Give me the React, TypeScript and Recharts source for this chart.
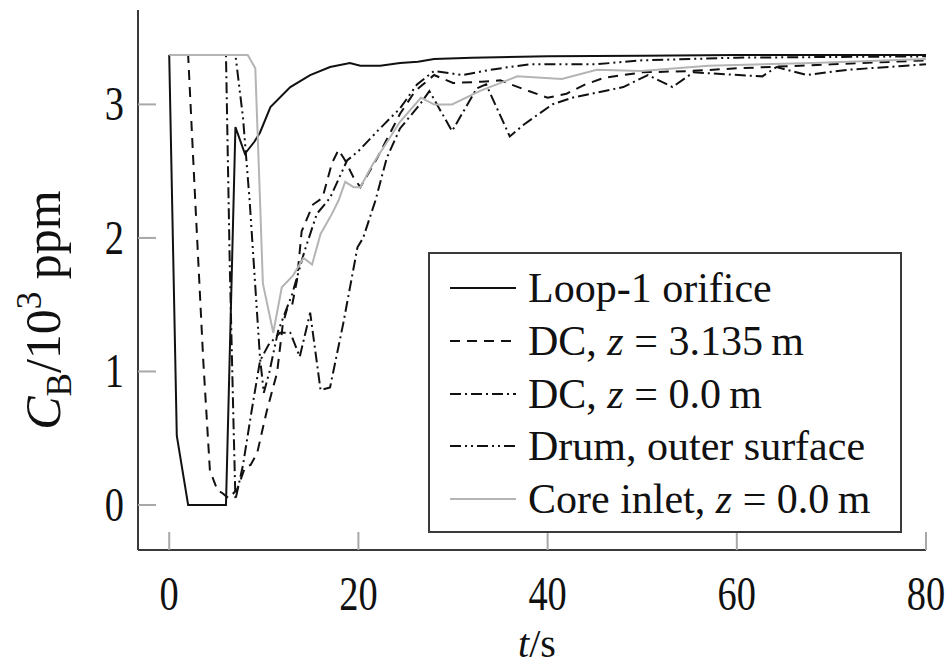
import { LineChart, Line, XAxis, YAxis, Legend } from 'recharts';

const serif = '"Liberation Serif", "DejaVu Serif", "Times New Roman", serif';
const tickColor = '#a8a8a8';
const frameColor = '#3a3a3a';
const TICK_LEN = 18;

// boron concentration C_B (10^3 ppm) over time t (s) at each probe location
const loopTime = [0, 0.8, 2, 6, 7, 8, 9, 9.6, 10.7, 12.8, 14.9, 17, 19.1, 20.2, 22.3, 24.4, 26.3, 28, 32, 40, 50, 60, 80];
const loopConc = [3.37, 0.52, 0, 0, 2.83, 2.63, 2.72, 2.79, 2.98, 3.13, 3.22, 3.28, 3.31, 3.29, 3.29, 3.31, 3.32, 3.34, 3.35, 3.36, 3.365, 3.37, 3.37];

const dcTopTime = [0, 2, 2.75, 3.6, 4.3, 5.1, 5.6, 6.3, 7.2, 8, 8.6, 9.3, 10.3, 11.4, 12, 12.5, 13, 13.5, 14, 15.2, 16.2, 17.2, 17.9, 18.6, 19.5, 20.2, 22, 24.4, 26, 28, 30, 33, 35, 38, 40, 42, 44, 46, 50, 55, 60, 70, 80];
const dcTopConc = [3.37, 3.37, 2.28, 1.08, 0.26, 0.11, 0.09, 0.05, 0.12, 0.28, 0.3, 0.39, 0.7, 0.99, 1.35, 1.48, 1.5, 1.68, 2.05, 2.25, 2.3, 2.56, 2.66, 2.58, 2.45, 2.38, 2.6, 2.93, 3.1, 3.22, 3.16, 3.17, 3.18, 3.1, 3.05, 3.08, 3.15, 3.2, 3.24, 3.25, 3.27, 3.3, 3.33];

const dcBottomTime = [0, 6, 6.4, 6.8, 7, 7.8, 8.7, 9.6, 10.5, 11.7, 12.8, 13.8, 14.9, 16, 17, 18.4, 19.9, 20.5, 21.8, 23, 24.4, 26.5, 27.5, 29.9, 32.5, 33.5, 36, 37.5, 40.5, 42.6, 48, 50.6, 53.2, 55.4, 62.7, 64.2, 67.4, 71.8, 80];
const dcBottomConc = [3.37, 3.37, 1.8, 0.6, 0.04, 0.3, 0.7, 1.08, 1.2, 1.29, 1.29, 1.11, 1.44, 0.86, 0.88, 1.36, 1.93, 2.0, 2.28, 2.6, 2.82, 3.0, 3.1, 2.8, 3.12, 3.15, 2.76, 2.85, 3.0, 3.05, 3.13, 3.22, 3.13, 3.24, 3.21, 3.28, 3.22, 3.26, 3.3];

const drumTime = [0, 7, 7.8, 8.5, 9.6, 10, 10.6, 11.5, 13, 14.3, 15.6, 17, 18.8, 20, 22, 24.4, 26.2, 28, 31, 34, 38, 45, 50, 60, 80];
const drumConc = [3.37, 3.37, 2.9, 2.28, 1.1, 0.84, 1.0, 1.3, 1.58, 1.9, 2.18, 2.3, 2.58, 2.65, 2.8, 2.97, 3.15, 3.25, 3.22, 3.26, 3.3, 3.3, 3.33, 3.35, 3.36];

const coreTime = [0, 8.3, 9.1, 9.6, 9.9, 11, 11.9, 13.1, 14.2, 15.1, 16, 17.2, 17.9, 18.6, 19.5, 20.2, 21.5, 24.4, 26.6, 28, 29.9, 32.8, 36.8, 41.5, 45.2, 49.9, 57, 68, 80];
const coreConc = [3.37, 3.37, 3.27, 2.28, 1.66, 1.29, 1.63, 1.72, 1.85, 1.8, 2.03, 2.18, 2.28, 2.42, 2.38, 2.38, 2.55, 2.87, 3.05, 3.0, 3.0, 3.1, 3.21, 3.19, 3.26, 3.25, 3.29, 3.31, 3.34];

const xTicks = [0, 20, 40, 60, 80];
const yTicks = [0, 1, 2, 3];

const toPoints = (t: number[], c: number[]) => t.map((v, i) => ({ t: v, c: c[i] }));

type Series = { key: string; label: React.ReactNode; color: string; dash?: string; data: { t: number; c: number }[] };

const series: Series[] = [
  { key: 'loop', label: 'Loop-1 orifice', color: '#111', data: toPoints(loopTime, loopConc) },
  {
    key: 'dcTop',
    label: (<>DC, <i>z</i> = 3.135&#8201;m</>),
    color: '#111',
    dash: '10 7',
    data: toPoints(dcTopTime, dcTopConc),
  },
  {
    key: 'dcBottom',
    label: (<>DC, <i>z</i> = 0.0&#8201;m</>),
    color: '#111',
    dash: '11 4 2 4',
    data: toPoints(dcBottomTime, dcBottomConc),
  },
  {
    key: 'drum',
    label: 'Drum, outer surface',
    color: '#111',
    dash: '11 4 2 4 2 4',
    data: toPoints(drumTime, drumConc),
  },
  {
    key: 'core',
    label: (<>Core inlet, <i>z</i> = 0.0&#8201;m</>),
    color: '#b4b4b4',
    data: toPoints(coreTime, coreConc),
  },
];

// tick numerals are set tall and narrow
const tickText = (x: number, y: number, anchor: 'middle' | 'end', value: number) => (
  <text
    transform={`translate(${x},${y}) scale(0.8,1)`}
    textAnchor={anchor}
    fontFamily={serif}
    fontSize={48}
    fill="#111"
  >
    {value}
  </text>
);

function BottomTick({ x, y, payload }: any) {
  return (
    <g>
      <line x1={x} x2={x} y1={y} y2={y - TICK_LEN} stroke={tickColor} strokeWidth={2} />
      {tickText(x, y + 60, 'middle', payload.value)}
    </g>
  );
}

function TopTick({ x, y }: any) {
  return <line x1={x} x2={x} y1={y} y2={y + TICK_LEN} stroke={tickColor} strokeWidth={2} />;
}

function LeftTick({ x, y, payload }: any) {
  return (
    <g>
      <line x1={x} x2={x + TICK_LEN} y1={y} y2={y} stroke={tickColor} strokeWidth={2} />
      {tickText(x - 14, y + 16, 'end', payload.value)}
    </g>
  );
}

function RightTick({ x, y }: any) {
  return <line x1={x} x2={x - TICK_LEN} y1={y} y2={y} stroke={tickColor} strokeWidth={2} />;
}

function XLabel({ viewBox }: any) {
  const cx = viewBox.x + viewBox.width / 2 + 5;
  return (
    <text x={cx} y={viewBox.y + 107} textAnchor="middle" fontFamily={serif} fontSize={40} fill="#111">
      <tspan fontStyle="italic">t</tspan>/s
    </text>
  );
}

function YLabel({ viewBox }: any) {
  const cx = viewBox.x - 18;
  const cy = viewBox.y + viewBox.height / 2 + 30;
  return (
    <text transform={`translate(${cx},${cy}) rotate(-90)`} textAnchor="middle" fontFamily={serif} fontSize={50} fill="#111">
      <tspan fontStyle="italic">C</tspan>
      <tspan dy={11} fontSize={35}>B</tspan>
      <tspan dy={-11}>/10</tspan>
      <tspan dy={-19} fontSize={35}>3</tspan>
      <tspan dy={19}> ppm</tspan>
    </text>
  );
}

function LegendBox() {
  return (
    <div
      style={{
        border: `2px solid ${frameColor}`,
        background: '#fff',
        padding: '8px 0',
        boxSizing: 'border-box',
        width: 474,
        height: 281,
        fontFamily: serif,
        fontSize: 42,
        color: '#111',
      }}
    >
      {series.map((s) => (
        <div key={s.key} style={{ display: 'flex', alignItems: 'center', height: 52.7, whiteSpace: 'nowrap' }}>
          <svg width={98} height={20} style={{ flex: 'none' }}>
            <line x1={20} x2={86} y1={10} y2={10} stroke={s.color} strokeWidth={2} strokeDasharray={s.dash} />
          </svg>
          <span style={{ lineHeight: 1 }}>{s.label}</span>
        </div>
      ))}
    </div>
  );
}

export default function App() {
  return (
    <div style={{ position: 'absolute', left: 0, top: 0, background: '#fff' }}>
      <LineChart width={952} height={666} margin={{ top: 10, right: 26, bottom: 56, left: 78 }}>
        <XAxis
          xAxisId="bottom"
          dataKey="t"
          type="number"
          domain={[-3.3, 80]}
          ticks={xTicks}
          allowDataOverflow
          height={60}
          tickSize={0}
          tickMargin={0}
          tickLine={false}
          axisLine={{ stroke: frameColor, strokeWidth: 2 }}
          tick={<BottomTick />}
          label={<XLabel />}
        />
        <XAxis
          xAxisId="top"
          orientation="top"
          type="number"
          domain={[-3.3, 80]}
          ticks={xTicks}
          allowDataOverflow
          height={0}
          tickSize={0}
          tickMargin={0}
          tickLine={false}
          axisLine={{ stroke: frameColor, strokeWidth: 2 }}
          tick={<TopTick />}
        />
        <YAxis
          yAxisId="left"
          type="number"
          domain={[-0.337, 3.707]}
          ticks={yTicks}
          allowDataOverflow
          width={60}
          tickSize={0}
          tickMargin={0}
          tickLine={false}
          axisLine={{ stroke: frameColor, strokeWidth: 2 }}
          tick={<LeftTick />}
          label={<YLabel />}
        />
        <YAxis
          yAxisId="right"
          orientation="right"
          type="number"
          domain={[-0.337, 3.707]}
          ticks={yTicks}
          allowDataOverflow
          width={0}
          tickSize={0}
          tickMargin={0}
          tickLine={false}
          axisLine={{ stroke: frameColor, strokeWidth: 2 }}
          tick={<RightTick />}
        />
        <Legend
          layout="vertical"
          align="center"
          verticalAlign="middle"
          content={<LegendBox />}
          wrapperStyle={{ left: 428, top: 252, width: 474, height: 281 }}
        />
        {series.map((s) => (
          <Line
            key={s.key}
            xAxisId="bottom"
            yAxisId="left"
            data={s.data}
            dataKey="c"
            type="linear"
            stroke={s.color}
            strokeWidth={2}
            strokeDasharray={s.dash}
            dot={false}
            activeDot={false}
            isAnimationActive={false}
            legendType="none"
          />
        ))}
      </LineChart>
    </div>
  );
}
